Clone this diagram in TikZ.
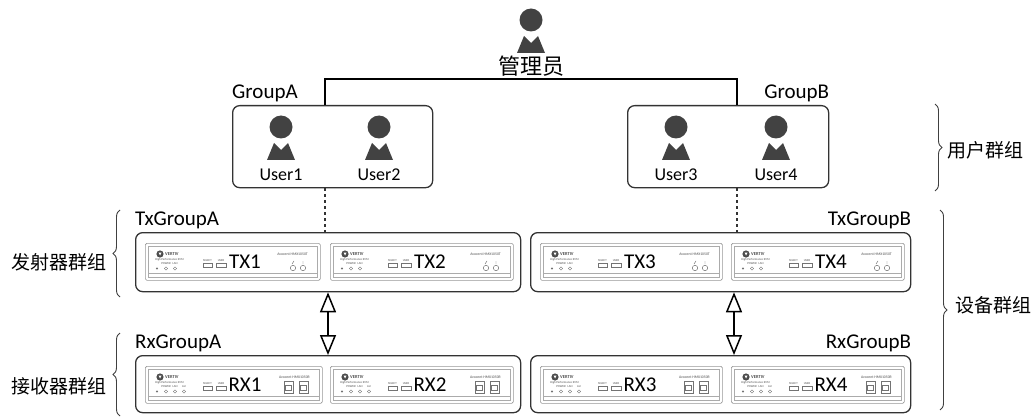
\documentclass[tikz,border=0pt]{standalone}
\usepackage{fontspec}
\setmainfont{Carlito}
\newfontfamily\cjk{Noto Sans CJK SC}
\usetikzlibrary{positioning,calc,arrows.meta,decorations.pathreplacing}

\definecolor{icongray}{HTML}{424242}
\definecolor{framegray}{HTML}{333333}
\definecolor{panelgray}{HTML}{969696}

\tikzset{
  groupbox/.style={draw=framegray, line width=1.3pt, rounded corners=7pt, inner sep=0pt, anchor=north west},
  panel/.style={draw=panelgray, line width=.7pt, rounded corners=1.5pt, minimum height=37pt, inner sep=0pt, anchor=north west},
  namelabel/.style={font=\fontsize{21}{23}\selectfont, inner sep=0pt},
  userlabel/.style={font=\fontsize{18}{20}\selectfont, inner sep=0pt},
  devlabel/.style={font=\fontsize{21}{23}\selectfont, inner sep=0pt},
  cnlabel/.style={font=\cjk\fontsize{19}{21}\selectfont, inner sep=0pt},
  tinytext/.style={font=\fontsize{3}{3.5}\selectfont, inner sep=0pt, text=black!70},
  busline/.style={line width=1.8pt},
  dotlink/.style={line width=1.5pt, draw=framegray, dash pattern=on 3pt off 3pt},
  duplex/.style={line width=1.5pt, {Triangle[length=20pt,width=16pt,fill=white]}-{Triangle[length=20pt,width=16pt,fill=white]}},
  sidebrace/.style={decorate, decoration={brace, amplitude=7pt}, line width=.9pt, draw=black!75},
}

% person icon: head and body, placed by the head centre
\newcommand{\person}[3]{%
  \node[circle, fill=icongray, minimum size=23pt, inner sep=0pt] (#1) at (#2,#3) {};
  \begin{scope}[shift={(#1)}]
    \fill[icongray] (-7,16) -- (0,23) -- (7,16) -- (14,33) -- (-14,33) -- cycle;
  \end{scope}
}

% front of a KVM unit: #1 name, #2 x, #3 y, #4 width, #5 label, #6 T or R
\newcommand{\kvm}[6]{%
  \node[panel, minimum width=#4pt] (#1) at (#2,#3) {};
  \begin{scope}[shift={(#1.north west)}]
    \draw[panelgray!80, line width=.5pt] (3,3) rectangle (#4-3,34);
    \draw[panelgray!80, line width=.5pt] (3,30) -- (#4-3,30);
    \fill[black!70] (15,11) circle (3.6);
    \fill[white] (13.5,9.5) -- (15,12.5) -- (16.5,9.5) -- cycle;
    \node[tinytext, anchor=west, font=\fontsize{4.5}{5}\selectfont\bfseries] at (20,11) {VERTIV};
    \node[tinytext, anchor=west] at (10,17) {High Performance KVM};
    \node[tinytext] at (21,21) {POWER};
    \node[tinytext] at (30,21) {LAN};
    \draw[black!55, line width=.45pt] (12,25.5) circle (.8) (21,25.5) circle (1.6) (30,25.5) circle (1.6);
    \draw[black!55, line width=.45pt] (58,20) rectangle (67,24) (71,20) rectangle (81,24);
    \node[tinytext] at (62.5,18) {SELECT};
    \node[tinytext] at (76,18) {USER};
    \node[tinytext, anchor=east, font=\fontsize{3.8}{4}\selectfont] at (#4-12,11) {Avocent HMX1050#6};
    \if T#6
      \draw[black!55, line width=.5pt] (#4-27,25) circle (2.7) (#4-17,25) circle (2.7);
      \draw[black!55, line width=.45pt] (#4-28,21) -- (#4-26,18) (#4-17,18) -- (#4-17,21);
    \else
      \draw[black!55, line width=.45pt] (39,25.5) circle (1.6);
      \node[tinytext] at (39,21) {AU};
      \foreach \px in {#4-38,#4-23} {
        \draw[black!55, line width=.5pt] (\px,15) rectangle ++(9,12);
        \draw[black!55, line width=.4pt] (\px+1.5,19) rectangle ++(6,5);
      }
    \fi
  \end{scope}
  \node[devlabel] at ($(#1.north west)+(100,19)$) {#5};
}

\begin{document}
\begin{tikzpicture}[x=1pt, y=-1pt]
\useasboundingbox (0,0) rectangle (1031,417);

% administrator and the two user groups
\person{admin}{531}{20}
\node[cnlabel, font=\cjk\fontsize{22}{24}\selectfont] (adminlabel) at (531,66) {管理员};

\node[groupbox, minimum width=200pt, minimum height=82pt] (ga) at (232,105) {};
\node[groupbox, minimum width=201pt, minimum height=82pt] (gb) at (627,105) {};
\node[namelabel, anchor=base west] (galabel) at (ga.north west) [yshift=6pt] {GroupA};
\node[namelabel, anchor=base east] (gblabel) at (gb.north east) [yshift=6pt] {GroupB};

\person{u1}{281}{127}
\person{u2}{379}{127}
\person{u3}{676}{127}
\person{u4}{776}{127}
\foreach \u/\name in {u1/User1, u2/User2, u3/User3, u4/User4}
  \node[userlabel] (\u label) at ($(\u)+(0,48)$) {\name};

\coordinate (busA) at (325,79);
\coordinate (busB) at (737,79);
\draw[busline] (ga.north -| busA) -- (busA) -- (busB) -- (gb.north -| busB);

% transmitter and receiver groups
\node[groupbox, minimum width=385pt, minimum height=59pt] (txa) at (135,232) {};
\node[groupbox, minimum width=380pt, minimum height=59pt] (txb) at (530,232) {};
\node[groupbox, minimum width=385pt, minimum height=57pt] (rxa) at (135,355) {};
\node[groupbox, minimum width=380pt, minimum height=57pt] (rxb) at (530,355) {};
\node[namelabel, anchor=base west] (txalabel) at (txa.north west) [yshift=7pt] {TxGroupA};
\node[namelabel, anchor=base east] (txblabel) at (txb.north east) [yshift=7pt] {TxGroupB};
\node[namelabel, anchor=base west] (rxalabel) at (rxa.north west) [yshift=7pt] {RxGroupA};
\node[namelabel, anchor=base east] (rxblabel) at (rxb.north east) [yshift=7pt] {RxGroupB};

\kvm{tx1}{145}{243}{175}{TX1}{T}
\kvm{tx2}{330}{243}{183}{TX2}{T}
\kvm{tx3}{540}{243}{182}{TX3}{T}
\kvm{tx4}{731}{243}{173}{TX4}{T}
\kvm{rx1}{145}{366}{177}{RX1}{R}
\kvm{rx2}{330}{366}{183}{RX2}{R}
\kvm{rx3}{540}{366}{182}{RX3}{R}
\kvm{rx4}{731}{366}{173}{RX4}{R}

\draw[dotlink] (ga.south -| busA) -- (txa.north -| busA);
\draw[dotlink] (gb.south -| busB) -- (txb.north -| busB);
\draw[duplex] ([xshift=3pt]txa.south -| busA) -- ([xshift=3pt]rxa.north -| busA);
\draw[duplex] ([xshift=-3pt]txb.south -| busB) -- ([xshift=-3pt]rxb.north -| busB);

% braces with the group names
\draw[sidebrace] (120,297) -- (120,210);
\draw[sidebrace] (120,416) -- (120,333);
\draw[sidebrace] (935,104) -- (935,191);
\draw[sidebrace] (940,210) -- (940,410);
\node[cnlabel, anchor=east] (txside) at (107,262) {发射器群组};
\node[cnlabel, anchor=east] (rxside) at (107,386) {接收器群组};
\node[cnlabel, anchor=west] (userside) at (947,150) {用户群组};
\node[cnlabel, anchor=west] (devside) at (955,305) {设备群组};
\end{tikzpicture}
\end{document}
